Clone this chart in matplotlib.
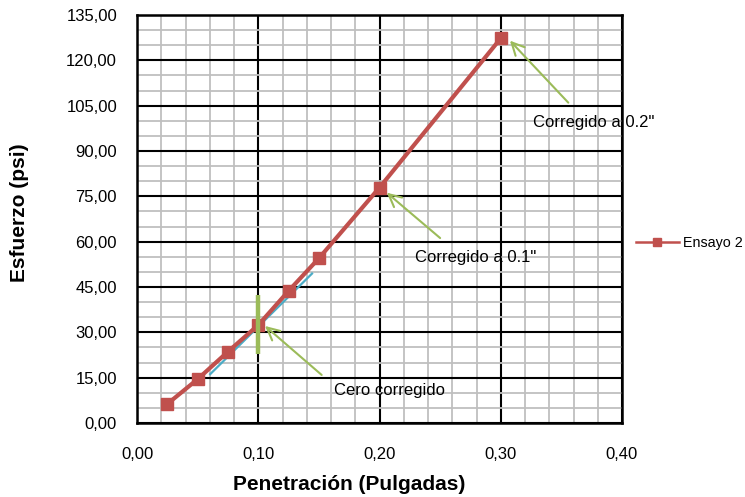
import matplotlib
matplotlib.use("Agg")
import matplotlib.pyplot as plt
from matplotlib.lines import Line2D

plt.rcParams['font.family'] = ['Liberation Sans', 'DejaVu Sans']

# Data
penetracion = [0.025, 0.05, 0.075, 0.10, 0.125, 0.15, 0.20, 0.30]
esfuerzo = [6.3, 14.5, 23.6, 32.4, 43.7, 54.5, 77.9, 127.3]
tangente_x = [0.0597, 0.145]
tangente_y = [15.9, 49.7]
cero_x = [0.10, 0.10]
cero_y = [22.8, 42.4]
x_ticks = [0.0, 0.1, 0.2, 0.3, 0.4]
x_labels = ["0,00", "0,10", "0,20", "0,30", "0,40"]
y_ticks = [0, 15, 30, 45, 60, 75, 90, 105, 120, 135]
y_labels = ["0,00", "15,00", "30,00", "45,00", "60,00", "75,00", "90,00",
            "105,00", "120,00", "135,00"]
annotations = [
    ("Cero corregido", (0.1056, 32.1), (0.1523, 15.9), (0.1625, 10.6)),
    ("Corregido a 0.1\"", (0.206, 76.2), (0.25, 61.2), (0.229, 54.6)),
    ("Corregido a 0.2\"", (0.3076, 126.5), (0.3557, 106.0), (0.327, 99.4)),
]
series_name = "Ensayo 2"

RED = "#C0504D"
GREEN = "#9BBB59"
BLUE = "#4BACC6"

W, H = 745, 497
fig = plt.figure(figsize=(W / 100, H / 100), dpi=100)
ax = fig.add_axes([137 / W, (H - 423) / H, 485 / W, 408 / H])

ax.set_xlim(0, 0.4)
ax.set_ylim(0, 135)

# grid
ax.set_xticks(x_ticks)
ax.set_xticklabels(x_labels)
ax.set_yticks(y_ticks)
ax.set_yticklabels(y_labels)
ax.set_xticks([i * 0.02 for i in range(21)], minor=True)
ax.set_yticks(list(range(0, 136, 5)), minor=True)
ax.grid(which='minor', color='#BFBFBF', lw=1.3, zorder=0)
ax.grid(which='major', color='black', lw=1.5, zorder=0.5)
ax.set_axisbelow(True)
ax.tick_params(which='both', length=0)
ax.tick_params(axis='y', pad=14.4, labelsize=12)
ax.tick_params(axis='x', pad=17, labelsize=12)
for s in ax.spines.values():
    s.set_linewidth(1.8)
    s.set_color('black')

# marks
ax.plot(tangente_x, tangente_y, color=BLUE, lw=1.6, zorder=3, solid_capstyle='butt')
ax.plot(penetracion, esfuerzo, color=RED, lw=3, marker='s', markersize=9,
        zorder=4, solid_capstyle='butt')
ax.plot(cero_x, cero_y, color=GREEN, lw=3.2, zorder=5, solid_capstyle='butt')

for text, tip, tail, tpos in annotations:
    ax.annotate("", xy=tip, xytext=tail,
                arrowprops=dict(arrowstyle="->,head_length=0.9,head_width=0.45",
                                color=GREEN, lw=1.5, shrinkA=0, shrinkB=0),
                zorder=6)
    ax.text(tpos[0], tpos[1], text, fontsize=12, ha='left', va='center', zorder=7)

# labels
fig.text(349 / W, 1 - 485 / H, "Penetración (Pulgadas)", fontsize=15,
         fontweight='bold', ha='center', va='center')
fig.text(20 / W, 1 - 213 / H, "Esfuerzo (psi)", fontsize=15,
         fontweight='bold', ha='center', va='center', rotation=90)

# legend
handle = Line2D([], [], color=RED, lw=1.8, marker='s', markersize=6)
fig.legend([handle], [series_name], loc='center left',
           bbox_to_anchor=(636 / W, 1 - 243 / H), frameon=False,
           fontsize=10.3, handlelength=3.0, handletextpad=0.3, borderpad=0,
           borderaxespad=0)

fig.savefig("out.png", dpi=100)
